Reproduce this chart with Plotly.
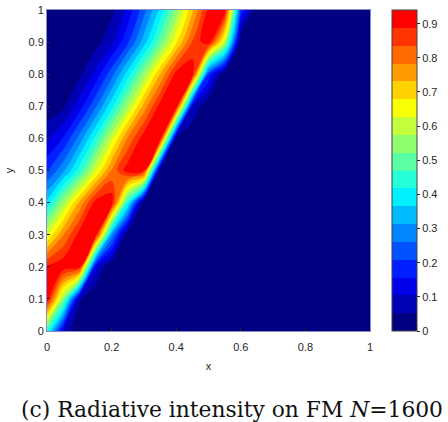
import plotly.graph_objects as go

# grid coordinates
x_vals = [0.00, 0.05, 0.10, 0.15, 0.20, 0.25, 0.30, 0.35, 0.40, 0.45, 0.50,
          0.55, 0.60, 0.65, 0.70, 0.75, 0.80, 0.85, 0.90, 0.95, 1.00]
y_vals = [0.0, 0.1, 0.2, 0.3, 0.4, 0.5, 0.6, 0.7, 0.8, 0.9, 1.0]

# intensity, one row per y value
row_y00 = [0.45, 0.10, 0.00, 0.00, 0.00, 0.00, 0.00, 0.00, 0.00, 0.00, 0.00, 0.00, 0.00, 0.00, 0.00, 0.00, 0.00, 0.00, 0.00, 0.00, 0.00]
row_y01 = [0.93, 0.55, 0.06, 0.00, 0.00, 0.00, 0.00, 0.00, 0.00, 0.00, 0.00, 0.00, 0.00, 0.00, 0.00, 0.00, 0.00, 0.00, 0.00, 0.00, 0.00]
row_y02 = [0.90, 0.93, 0.92, 0.12, 0.00, 0.00, 0.00, 0.00, 0.00, 0.00, 0.00, 0.00, 0.00, 0.00, 0.00, 0.00, 0.00, 0.00, 0.00, 0.00, 0.00]
row_y03 = [0.62, 0.78, 0.91, 0.93, 0.30, 0.00, 0.00, 0.00, 0.00, 0.00, 0.00, 0.00, 0.00, 0.00, 0.00, 0.00, 0.00, 0.00, 0.00, 0.00, 0.00]
row_y04 = [0.38, 0.56, 0.74, 0.91, 0.93, 0.43, 0.00, 0.00, 0.00, 0.00, 0.00, 0.00, 0.00, 0.00, 0.00, 0.00, 0.00, 0.00, 0.00, 0.00, 0.00]
row_y05 = [0.20, 0.30, 0.44, 0.62, 0.79, 0.92, 0.90, 0.02, 0.00, 0.00, 0.00, 0.00, 0.00, 0.00, 0.00, 0.00, 0.00, 0.00, 0.00, 0.00, 0.00]
row_y06 = [0.10, 0.16, 0.28, 0.43, 0.61, 0.79, 0.92, 0.93, 0.03, 0.00, 0.00, 0.00, 0.00, 0.00, 0.00, 0.00, 0.00, 0.00, 0.00, 0.00, 0.00]
row_y07 = [0.01, 0.04, 0.13, 0.25, 0.40, 0.57, 0.75, 0.91, 0.93, 0.10, 0.00, 0.00, 0.00, 0.00, 0.00, 0.00, 0.00, 0.00, 0.00, 0.00, 0.00]
row_y08 = [0.00, 0.01, 0.04, 0.12, 0.24, 0.39, 0.55, 0.73, 0.91, 0.93, 0.20, 0.00, 0.00, 0.00, 0.00, 0.00, 0.00, 0.00, 0.00, 0.00, 0.00]
row_y09 = [0.00, 0.00, 0.00, 0.03, 0.09, 0.20, 0.34, 0.50, 0.67, 0.84, 0.93, 0.60, 0.00, 0.00, 0.00, 0.00, 0.00, 0.00, 0.00, 0.00, 0.00]
row_y10 = [0.00, 0.00, 0.00, 0.01, 0.04, 0.12, 0.24, 0.38, 0.54, 0.72, 0.90, 0.93, 0.20, 0.00, 0.00, 0.00, 0.00, 0.00, 0.00, 0.00, 0.00]

z_rows = [row_y00, row_y01, row_y02, row_y03, row_y04, row_y05,
          row_y06, row_y07, row_y08, row_y09, row_y10]

x_ticks = [0, 0.2, 0.4, 0.6, 0.8, 1]
x_tick_text = ["0", "0.2", "0.4", "0.6", "0.8", "1"]
y_ticks = [0, 0.1, 0.2, 0.3, 0.4, 0.5, 0.6, 0.7, 0.8, 0.9, 1]
y_tick_text = ["0", "0.1", "0.2", "0.3", "0.4", "0.5", "0.6", "0.7", "0.8", "0.9", "1"]
cb_ticks = [0, 0.1, 0.2, 0.3, 0.4, 0.5, 0.6, 0.7, 0.8, 0.9]
cb_tick_text = ["0", "0.1", "0.2", "0.3", "0.4", "0.5", "0.6", "0.7", "0.8", "0.9"]

# 18 discrete jet-like colours (navy -> red)
band_colors = [
    "rgb(0,0,128)", "rgb(0,0,180)", "rgb(0,0,233)", "rgb(0,30,255)",
    "rgb(0,83,255)", "rgb(0,135,255)", "rgb(0,188,255)", "rgb(0,240,255)",
    "rgb(37,255,218)", "rgb(90,255,165)", "rgb(143,255,112)", "rgb(195,255,60)",
    "rgb(248,255,7)", "rgb(255,210,0)", "rgb(255,157,0)", "rgb(255,105,0)",
    "rgb(255,52,0)", "rgb(255,0,0)",
]
z_top = 0.94
n_bands = len(band_colors)
step = z_top / n_bands

colorscale = []
for i, c in enumerate(band_colors):
    colorscale.append([i / n_bands, c])
    colorscale.append([(i + 1) / n_bands, c])

font_axis = dict(family="Liberation Sans, Arial, sans-serif", size=11, color="#262626")

fig = go.Figure(go.Contour(
    x=x_vals, y=y_vals, z=z_rows,
    zmin=0, zmax=z_top, zauto=False,
    colorscale=colorscale,
    contours=dict(start=step, end=step * (n_bands - 1), size=step,
                  coloring="fill", showlines=False),
    line=dict(width=0),
    colorbar=dict(
        x=1.068, xanchor="left", xpad=0,
        y=0.5, yanchor="middle", ypad=0,
        thickness=25, thicknessmode="pixels",
        len=1.0, lenmode="fraction",
        outlinewidth=1, outlinecolor="#444",
        tickmode="array", tickvals=cb_ticks, ticktext=cb_tick_text,
        ticks="outside", ticklen=3, tickcolor="#262626",
        tickfont=font_axis,
    ),
))

fig.update_layout(
    width=448, height=422,
    margin=dict(l=47, r=78, t=10, b=91, autoexpand=False),
    paper_bgcolor="white", plot_bgcolor="white",
    showlegend=False,
    xaxis=dict(range=[0, 1], tickmode="array", tickvals=x_ticks, ticktext=x_tick_text,
               ticks="inside", ticklen=3, tickcolor="#262626",
               ticklabelstandoff=6,
               showgrid=False, zeroline=False,
               showline=True, linecolor="rgba(60,60,160,0.6)", linewidth=1, mirror=True,
               tickfont=font_axis,
               title=dict(text="x", font=font_axis, standoff=10)),
    yaxis=dict(range=[0, 1], tickmode="array", tickvals=y_ticks, ticktext=y_tick_text,
               ticks="inside", ticklen=3, tickcolor="#262626",
               showgrid=False, zeroline=False,
               showline=True, linecolor="rgba(60,60,160,0.6)", linewidth=1, mirror=True,
               tickfont=font_axis,
               title=dict(text="y", font=font_axis, standoff=12)),
    annotations=[dict(
        text="(c) Radiative intensity on FM <i>N</i>=1600",
        xref="paper", yref="paper", x=0.573, y=-0.243,
        xanchor="center", yanchor="middle", showarrow=False,
        font=dict(family="DejaVu Serif, serif", size=21.8, color="#111"),
    )],
)

fig.write_html("out.html")
